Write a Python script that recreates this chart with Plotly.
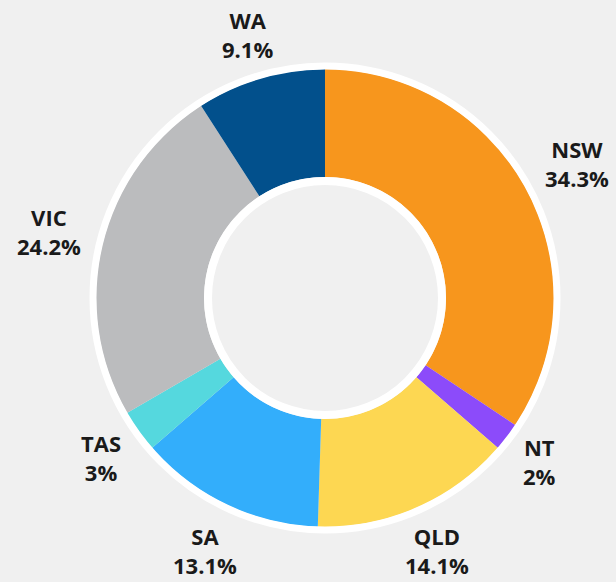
import math
import plotly.graph_objects as go

states = ["NSW", "NT", "QLD", "SA", "TAS", "VIC", "WA"]
shares = [34.3, 2, 14.1, 13.1, 3, 24.2, 9.1]
colors = ["#F7961D", "#8C4BFA", "#FDD752", "#33AEFB", "#55D8DE", "#BBBCBE", "#02508C"]

W, H = 616, 582
cx, cy, R = 325, 298, 229
r_hole = 121
BG = "#F0F0F0"

fig = go.Figure(go.Pie(
    labels=states,
    values=shares,
    sort=False,
    direction="clockwise",
    rotation=0,
    hole=r_hole / R,
    marker=dict(colors=colors, line=dict(width=0)),
    textinfo="none",
    hoverinfo="label+percent",
    domain=dict(x=[(cx - R) / W, (cx + R) / W], y=[(H - cy - R) / H, (H - cy + R) / H]),
))

def ring(r, w, fill="rgba(0,0,0,0)"):
    return dict(type="circle", xref="paper", yref="paper",
                x0=(cx - r) / W, x1=(cx + r) / W,
                y0=(H - cy - r) / H, y1=(H - cy + r) / H,
                line=dict(color="white", width=w), fillcolor=fill, layer="above")

# outside labels, placed along each slice's mid-angle
total = sum(shares)
annotations = []
cum = 0.0
for name, v in zip(states, shares):
    theta = math.radians((cum + v / 2) / total * 360)
    cum += v
    pct = f"{v:g}%"
    maxlen = max(len(name), len(pct))
    halfw, halfh = 6.7 * maxlen, 22
    d = 246 + halfw * abs(math.sin(theta)) + halfh * abs(math.cos(theta))
    xs = cx + d * math.sin(theta)
    ys = min(cy - d * math.cos(theta), H - 32)
    annotations.append(dict(
        x=xs / W, y=1 - ys / H, xref="paper", yref="paper",
        xanchor="center", yanchor="middle", align="center", showarrow=False,
        text=f"<b>{name}</b><br><b>{pct}</b>",
        font=dict(family="Open Sans", size=22, color="#1a1a1a"),
    ))

fig.update_layout(
    width=W, height=H,
    margin=dict(l=0, r=0, t=0, b=0),
    paper_bgcolor=BG,
    plot_bgcolor=BG,
    showlegend=False,
    shapes=[ring(R + 3, 7), ring(r_hole - 4, 8, BG)],
    annotations=annotations,
)

fig.write_html(
    "out.html",
    config={"displayModeBar": False},
    post_script="document.body.style.margin='0';document.body.style.overflow='hidden';",
)
